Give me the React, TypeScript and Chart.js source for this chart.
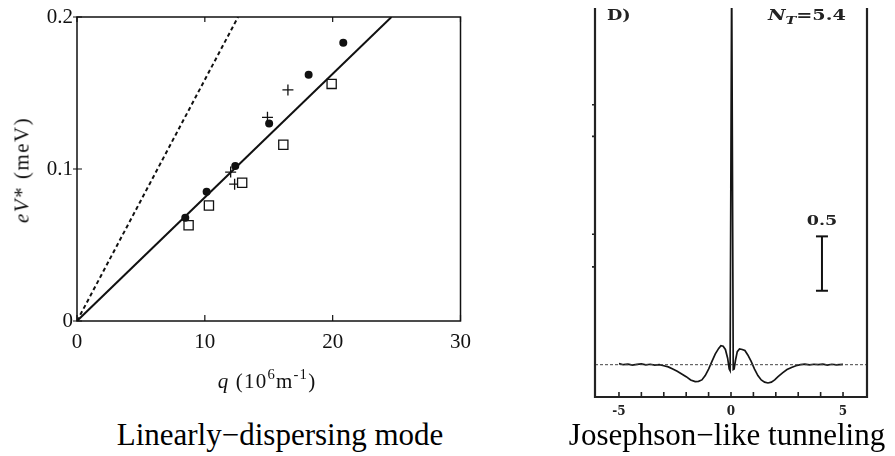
import React, { useEffect, useRef } from "react";
import { Chart, registerables } from "chart.js";
Chart.register(...registerables);

// ---------- Left panel data: linearly dispersing mode ----------
const circleQ = [8.47, 10.14, 12.38, 15.03, 18.12, 20.83];
const circleE = [0.068, 0.085, 0.102, 0.13, 0.162, 0.183];
const squareQ = [8.73, 10.32, 12.92, 16.14, 19.92];
const squareE = [0.063, 0.076, 0.091, 0.116, 0.156];
const plusQ = [12.02, 12.33, 14.9, 16.5];
const plusE = [0.098, 0.09, 0.134, 0.152];
const solidQ = [0, 24.6];
const solidE = [0, 0.2];
const dashedQ = [0, 12.6];
const dashedE = [0, 0.2];
const leftXTicks = [0, 10, 20, 30];
const leftYTicks = [0, 0.1, 0.2];

// ---------- Right panel data: Josephson-like tunneling ----------
const biasV = [
  -5.0, -4.8, -4.6, -4.4, -4.2, -4.0, -3.8, -3.6, -3.4, -3.2, -3.0, -2.8, -2.6, -2.4, -2.2, -2.0,
  -1.8, -1.6, -1.45, -1.3, -1.15, -1.0, -0.85, -0.7, -0.55, -0.45, -0.35, -0.25, -0.15, -0.08,
  -0.04, 0.03, 0.1, 0.14, 0.2, 0.28, 0.38, 0.5, 0.62, 0.75, 0.9, 1.05, 1.2, 1.35, 1.5, 1.65,
  1.8, 1.95, 2.1, 2.3, 2.5, 2.7, 2.9, 3.1, 3.3, 3.5, 3.7, 3.9, 4.1, 4.3, 4.5, 4.7, 5.0,
];
const conductance = [
  0.01, 0.0, 0.005, -0.004, 0.003, 0.008, -0.002, 0.004, -0.003, 0.0, -0.01, -0.02, -0.04, -0.06,
  -0.085, -0.11, -0.14, -0.155, -0.153, -0.14, -0.1, -0.04, 0.03, 0.1, 0.15, 0.175, 0.17, 0.14,
  0.06, -0.04, -0.055, 3.6, -0.045, -0.04, 0.04, 0.12, 0.145, 0.14, 0.13, 0.09, 0.03, -0.04, -0.1,
  -0.14, -0.16, -0.168, -0.16, -0.14, -0.11, -0.075, -0.045, -0.025, -0.01, 0.0, 0.006, -0.002,
  0.004, 0.0, 0.006, -0.003, 0.004, -0.002, 0.003,
];
const baselineV = [-6.07, 6.07];
const baselineG = [0, 0];
const scaleBarV = [4.06, 4.06];
const scaleBarG = [0.68, 1.18];
const rightXMarks = [-5, -4, -3, -2, -1, 0, 1, 2, 3, 4, 5];
const rightXLabels = [-5, 0, 5];
const rightYMarks = [0.9, 1.2, 2.1, 2.39];

const zip = (xs: number[], ys: number[]) => xs.map((x, i) => ({ x, y: ys[i] }));

const serif = "'Liberation Serif', 'Times New Roman', serif";
const boldSerif = "'DejaVu Serif', serif";

const leftFramePlugin = {
  id: "leftFrame",
  afterDatasetsDraw(chart: any) {
    const { ctx, chartArea, scales } = chart;
    const { left, top, right, bottom } = chartArea;
    ctx.save();
    ctx.strokeStyle = "#111";
    ctx.lineWidth = 1.5;
    ctx.strokeRect(left, top, right - left, bottom - top);
    ctx.lineWidth = 1.2;
    ctx.beginPath();
    leftXTicks.forEach((v) => {
      const px = scales.x.getPixelForValue(v);
      ctx.moveTo(px, bottom);
      ctx.lineTo(px, bottom - 6);
      ctx.moveTo(px, top);
      ctx.lineTo(px, top + 5);
    });
    leftYTicks.forEach((v) => {
      const py = scales.y.getPixelForValue(v);
      ctx.moveTo(left - 4, py);
      ctx.lineTo(left + 5, py);
    });
    ctx.stroke();
    ctx.restore();
  },
};

const rightFramePlugin = {
  id: "rightFrame",
  afterDatasetsDraw(chart: any) {
    const { ctx, chartArea, scales } = chart;
    const { left, top, right, bottom } = chartArea;
    ctx.save();
    ctx.strokeStyle = "#222";
    ctx.lineWidth = 2.2;
    ctx.beginPath();
    ctx.moveTo(left, top);
    ctx.lineTo(left, bottom);
    ctx.lineTo(right, bottom);
    ctx.lineTo(right, top);
    ctx.stroke();
    ctx.lineWidth = 1.6;
    ctx.beginPath();
    rightXMarks.forEach((v) => {
      const px = scales.x.getPixelForValue(v);
      ctx.moveTo(px, bottom);
      ctx.lineTo(px, bottom - 5);
    });
    rightYMarks.forEach((v) => {
      const py = scales.y.getPixelForValue(v);
      ctx.moveTo(left - 3, py);
      ctx.lineTo(left, py);
    });
    ctx.stroke();
    ctx.restore();
  },
};

function LeftChart() {
  const ref = useRef<HTMLCanvasElement | null>(null);
  useEffect(() => {
    if (!ref.current) return;
    const chart = new Chart(ref.current, {
      type: "scatter",
      data: {
        datasets: [
          {
            data: zip(dashedQ, dashedE),
            showLine: true,
            borderColor: "#111",
            borderWidth: 2,
            borderDash: [4, 3],
            pointRadius: 0,
          },
          {
            data: zip(solidQ, solidE),
            showLine: true,
            borderColor: "#111",
            borderWidth: 2,
            pointRadius: 0,
          },
          {
            data: zip(circleQ, circleE),
            pointStyle: "circle",
            pointRadius: 4,
            backgroundColor: "#111",
            borderColor: "#111",
            borderWidth: 0,
          },
          {
            data: zip(squareQ, squareE),
            pointStyle: "rect",
            pointRadius: 6.5,
            backgroundColor: "#fff",
            borderColor: "#111",
            borderWidth: 1.3,
          },
          {
            data: zip(plusQ, plusE),
            pointStyle: "cross",
            pointRadius: 5.5,
            borderColor: "#111",
            borderWidth: 1.3,
          },
        ],
      },
      options: {
        responsive: false,
        animation: false,
        events: [],
        layout: { padding: { top: 17, right: 16, left: 0, bottom: 0 } },
        plugins: { legend: { display: false }, tooltip: { enabled: false } },
        scales: {
          x: {
            type: "linear",
            min: 0,
            max: 30,
            grid: { display: false, drawTicks: false },
            border: { display: false },
            ticks: {
              stepSize: 10,
              padding: 9,
              color: "#111",
              font: { family: serif, size: 21 },
              maxRotation: 0,
            },
            afterFit: (s: any) => {
              s.height = 79;
            },
          },
          y: {
            type: "linear",
            min: 0,
            max: 0.2,
            grid: { display: false, drawTicks: false },
            border: { display: false },
            ticks: {
              stepSize: 0.1,
              padding: 4,
              color: "#111",
              font: { family: serif, size: 21 },
              callback: (v: any) => (Number(v) === 0 ? "0" : Number(v).toFixed(1)),
            },
            afterFit: (s: any) => {
              s.width = 77;
            },
          },
        },
      },
      plugins: [leftFramePlugin],
    } as any);
    return () => chart.destroy();
  }, []);
  return (
    <canvas
      ref={ref}
      width={480}
      height={400}
      style={{ position: "absolute", left: 0, top: 0, width: 480, height: 400 }}
    />
  );
}

function RightChart() {
  const ref = useRef<HTMLCanvasElement | null>(null);
  useEffect(() => {
    if (!ref.current) return;
    const chart = new Chart(ref.current, {
      type: "scatter",
      data: {
        datasets: [
          {
            data: zip(baselineV, baselineG),
            showLine: true,
            borderColor: "#444",
            borderWidth: 1,
            borderDash: [3, 2],
            pointRadius: 0,
          },
          {
            data: zip(biasV, conductance),
            showLine: true,
            borderColor: "#151515",
            borderWidth: 1.7,
            pointRadius: 0,
          },
          {
            data: zip(scaleBarV, scaleBarG),
            showLine: true,
            borderColor: "#111",
            borderWidth: 2,
            pointStyle: "line",
            pointRadius: 6,
            pointBorderWidth: 2,
            pointBorderColor: "#111",
          },
        ],
      },
      options: {
        responsive: false,
        animation: false,
        events: [],
        layout: { padding: { top: 0, right: 28, left: 0, bottom: 0 } },
        plugins: { legend: { display: false }, tooltip: { enabled: false } },
        scales: {
          x: {
            type: "linear",
            min: -6.07,
            max: 6.07,
            grid: { display: false, drawTicks: false },
            border: { display: false },
            ticks: {
              stepSize: 1,
              includeBounds: false,
              autoSkip: false,
              padding: 8,
              color: "#222",
              maxRotation: 0,
              font: { family: boldSerif, size: 12, weight: "bold" },
              callback: (v: any) =>
                rightXLabels.includes(Math.round(Number(v) * 100) / 100) ? String(v) : "",
            },
            afterFit: (s: any) => {
              s.height = 59;
            },
          },
          y: {
            type: "linear",
            min: -0.297,
            max: 3.28,
            grid: { display: false, drawTicks: false },
            border: { display: false },
            ticks: { display: false },
            afterFit: (s: any) => {
              s.width = 35;
            },
          },
        },
      },
      plugins: [rightFramePlugin],
    } as any);
    return () => chart.destroy();
  }, []);
  return (
    <canvas
      ref={ref}
      width={335}
      height={456}
      style={{ position: "absolute", left: 560, top: 0, width: 335, height: 456 }}
    />
  );
}

export default function App() {
  return (
    <div
      style={{
        position: "absolute",
        left: 0,
        top: 0,
        width: 895,
        height: 456,
        background: "#fff",
        overflow: "hidden",
        color: "#111",
      }}
    >
      <LeftChart />
      <RightChart />
      {/* left y-axis title */}
      <div
        style={{
          position: "absolute",
          left: 22,
          top: 170,
          transform: "translate(-50%, -50%) rotate(-90deg)",
          fontFamily: serif,
          fontSize: 21,
          lineHeight: 1,
          whiteSpace: "nowrap",
          letterSpacing: 1.5,
        }}
      >
        <i>eV</i>* (meV)
      </div>
      {/* left x-axis title */}
      <div
        style={{
          position: "absolute",
          left: 267,
          top: 371,
          transform: "translateX(-50%)",
          fontFamily: serif,
          fontSize: 21,
          lineHeight: 1,
          whiteSpace: "nowrap",
          letterSpacing: 1.2,
        }}
      >
        <i>q</i> (10
        <span style={{ position: "relative", top: "-0.6em", fontSize: "0.7em" }}>6</span>m
        <span style={{ position: "relative", top: "-0.6em", fontSize: "0.7em" }}>-1</span>)
      </div>
      {/* captions */}
      <div
        style={{
          position: "absolute",
          left: 280,
          top: 419,
          transform: "translateX(-50%)",
          fontFamily: serif,
          fontSize: 31,
          lineHeight: 1,
          whiteSpace: "nowrap",
          color: "#000",
        }}
      >
        Linearly−dispersing mode
      </div>
      <div
        style={{
          position: "absolute",
          left: 727,
          top: 419,
          transform: "translateX(-50%)",
          fontFamily: serif,
          fontSize: 31,
          lineHeight: 1,
          whiteSpace: "nowrap",
          color: "#000",
        }}
      >
        Josephson−like tunneling
      </div>
      {/* right panel annotations */}
      <div
        style={{
          position: "absolute",
          left: 607,
          top: 8,
          fontFamily: boldSerif,
          fontWeight: "bold",
          fontSize: 15,
          lineHeight: 1,
          whiteSpace: "nowrap",
          transform: "scaleX(1.18)",
          transformOrigin: "left center",
          color: "#222",
        }}
      >
        D)
      </div>
      <div
        style={{
          position: "absolute",
          left: 768,
          top: 8,
          fontFamily: boldSerif,
          fontWeight: "bold",
          fontSize: 15,
          lineHeight: 1,
          whiteSpace: "nowrap",
          transform: "scaleX(1.28)",
          transformOrigin: "left center",
          color: "#222",
        }}
      >
        <i>N</i>
        <span style={{ position: "relative", top: "0.35em", fontSize: "0.75em" }}>
          <i>T</i>
        </span>
        =5.4
      </div>
      <div
        style={{
          position: "absolute",
          left: 822,
          top: 214,
          transform: "translateX(-50%) scaleX(1.35)",
          fontFamily: boldSerif,
          fontWeight: "bold",
          fontSize: 13,
          lineHeight: 1,
          whiteSpace: "nowrap",
          color: "#222",
        }}
      >
        0.5
      </div>
    </div>
  );
}
